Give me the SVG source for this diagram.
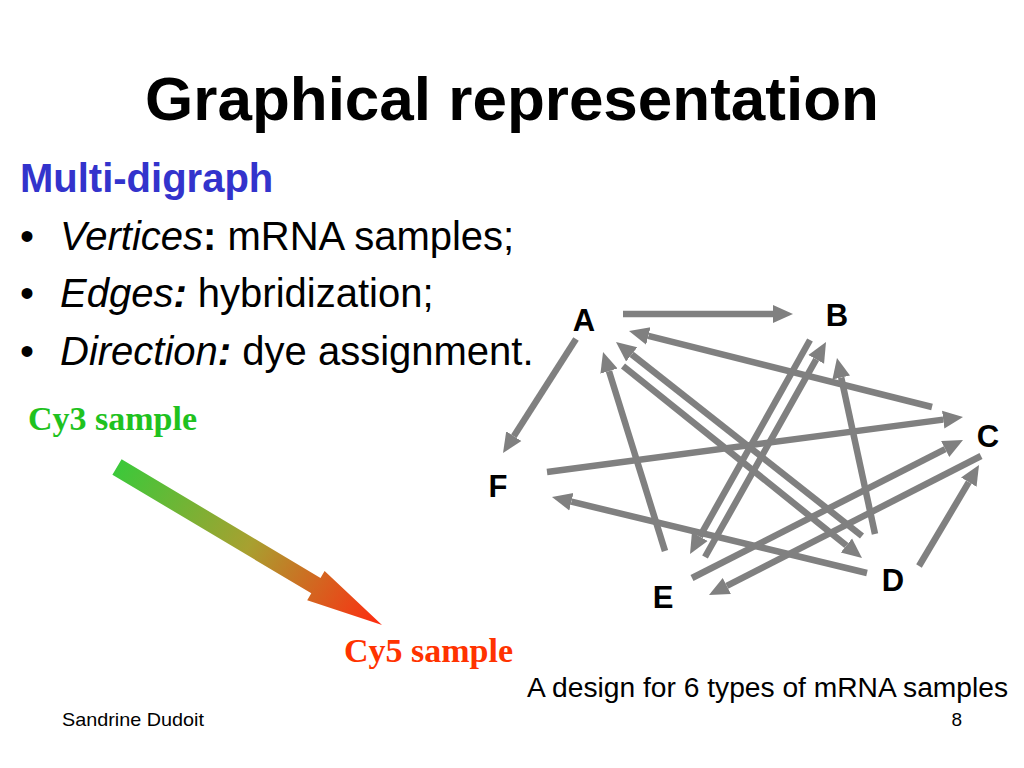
<svg xmlns="http://www.w3.org/2000/svg" width="1024" height="768" viewBox="0 0 1024 768">
<style>
.t{font-family:"Liberation Sans",Arial,sans-serif;fill:#000}
.node{font-family:"Liberation Sans",Arial,sans-serif;font-weight:bold;font-size:31px;fill:#000;text-anchor:middle}
.e{stroke:#808080;stroke-width:6.5;fill:none;marker-end:url(#ah)}
.ser{font-family:"Liberation Serif","Times New Roman",serif;font-weight:bold;font-size:34px}
</style>
<defs>
<marker id="ah" markerUnits="userSpaceOnUse" viewBox="0 -10 22 20" refX="0" refY="0" markerWidth="22" markerHeight="20" orient="auto">
<path d="M0,-9 L20,0 L0,9 z" fill="#808080"/>
</marker>
<linearGradient id="gr" gradientUnits="userSpaceOnUse" x1="117" y1="467" x2="382" y2="625">
<stop offset="0" stop-color="#3cc83a"/>
<stop offset="0.5" stop-color="#a8a030"/>
<stop offset="1" stop-color="#ff2a10"/>
</linearGradient>
</defs>
<rect width="1024" height="768" fill="#fff"/>
<text class="t" x="512" y="120" font-size="62" font-weight="bold" text-anchor="middle">Graphical representation</text>
<text class="t" x="20" y="192" font-size="40" font-weight="bold" style="fill:#3333cc">Multi-digraph</text>
<g class="t" font-size="40">
<text x="20" y="250">•</text>
<text x="60" y="250"><tspan font-style="italic">Vertices</tspan><tspan font-weight="bold">:</tspan> mRNA samples;</text>
<text x="20" y="307">•</text>
<text x="60" y="307"><tspan font-style="italic">Edges</tspan><tspan font-weight="bold" font-style="italic">:</tspan> hybridization;</text>
<text x="20" y="365">•</text>
<text x="60" y="365"><tspan font-style="italic">Direction</tspan><tspan font-weight="bold" font-style="italic">:</tspan> dye assignment.</text>
</g>
<text class="ser" x="28" y="430" fill="#1fc21f">Cy3 sample</text>
<polygon points="112.4,474.7 121.6,459.3 320.5,577.9 324.6,571 382,625 307.2,600.2 311.3,593.3" fill="url(#gr)"/>
<text class="ser" x="344" y="662" fill="#ff3300">Cy5 sample</text>
<g id="connectors">
<line class="e" x1="576" y1="339" x2="513.8" y2="436.2"/>
<line class="e" x1="623" y1="314" x2="773" y2="314"/>
<line class="e" x1="932" y1="407" x2="648.4" y2="335.9"/>
<line class="e" x1="862" y1="536" x2="631.7" y2="354.4"/>
<line class="e" x1="623" y1="366" x2="846.4" y2="545.5"/>
<line class="e" x1="665" y1="551" x2="609" y2="371.1"/>
<line class="e" x1="547" y1="472" x2="943.2" y2="419.6"/>
<line class="e" x1="810" y1="340" x2="699.8" y2="536.6"/>
<line class="e" x1="705" y1="557" x2="816.2" y2="359.4"/>
<line class="e" x1="875" y1="534" x2="841.2" y2="377.5"/>
<line class="e" x1="692" y1="578" x2="945.2" y2="449.1"/>
<line class="e" x1="981" y1="456" x2="726.8" y2="585.9"/>
<line class="e" x1="919" y1="566" x2="968.8" y2="482.2"/>
<line class="e" x1="867" y1="573" x2="571.4" y2="501.7"/>
</g>
<g id="A"><text class="node" x="584" y="331">A</text></g>
<g id="B"><text class="node" x="837" y="326">B</text></g>
<g id="C"><text class="node" x="988" y="447">C</text></g>
<g id="D"><text class="node" x="893" y="591">D</text></g>
<g id="E"><text class="node" x="663" y="608">E</text></g>
<g id="F"><text class="node" x="498" y="497">F</text></g>
<text class="t" x="527" y="697" font-size="27" textLength="481" lengthAdjust="spacingAndGlyphs">A design for 6 types of mRNA samples</text>
<text class="t" x="62" y="726" font-size="19" textLength="142" lengthAdjust="spacingAndGlyphs">Sandrine Dudoit</text>
<text class="t" x="962" y="726" font-size="19" text-anchor="end">8</text>
</svg>
